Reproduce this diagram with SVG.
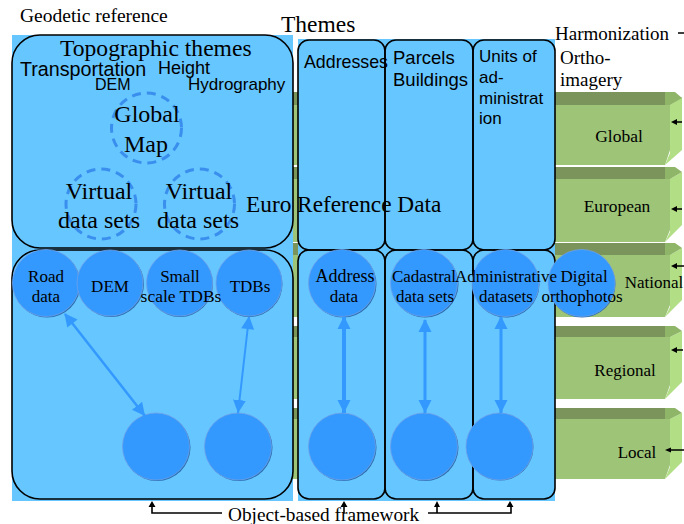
<svg xmlns="http://www.w3.org/2000/svg" width="684" height="524" viewBox="0 0 684 524">
<style>
text{fill:#000;font-family:"Liberation Serif","Times New Roman",serif}
.s{font-family:"Liberation Sans",Arial,sans-serif}
.m{text-anchor:middle}
.box{fill:none;stroke:#000;stroke-width:1.6}
.c{fill:#3399ff;stroke:#6f9fe8;stroke-width:.8}
.sh{fill:#2a6fb0}
.d{fill:none;stroke:#3a8fee;stroke-width:3;stroke-dasharray:9 6}
.band{fill:#7b945c}.front{fill:#9dc477}.side{fill:#b2de86}.cor{fill:#8fb568}
.a{stroke:#3399ff;fill:none;marker-start:url(#b1);marker-end:url(#b2)}
.k{stroke:#000;stroke-width:1.6;fill:none}
.ka{fill:#000}
.l{font-size:17px}
</style>
<defs>
<marker id="b1" markerUnits="userSpaceOnUse" markerWidth="14" markerHeight="14" refX="1" refY="7" orient="auto"><path d="M0 7L13 0.5V13.5Z" fill="#3399ff"/></marker>
<marker id="b2" markerUnits="userSpaceOnUse" markerWidth="14" markerHeight="14" refX="13" refY="7" orient="auto"><path d="M13 7L0 0.5V13.5Z" fill="#3399ff"/></marker>
</defs>
<rect width="684" height="524" fill="#fff"/>
<g id="slabs">
<g id="slab-global"><path class="band" d="M293 92H675L670 105H293Z"/><path class="front" d="M293 105H670V150L665 165H293Z"/><path class="side" d="M670 105L682 97V150L665 165L670 153Z"/><path class="cor" d="M665 92H675L682 98L670 105H665Z"/></g>
<g id="slab-european"><path class="band" d="M293 167H675L670 179H293Z"/><path class="front" d="M293 179H670V230L665 242H293Z"/><path class="side" d="M670 179L682 172V225L665 242L670 232Z"/><path class="cor" d="M665 167H675L682 172L670 179H665Z"/></g>
<g id="slab-national"><path class="band" d="M293 243H675L670 255H293Z"/><path class="front" d="M293 255H670V305L665 317H293Z"/><path class="side" d="M670 255L682 248V300L665 317L670 307Z"/><path class="cor" d="M665 243H675L682 248L670 255H665Z"/></g>
<g id="slab-regional"><path class="band" d="M293 326H675L670 337H293Z"/><path class="front" d="M293 337H670V385L665 399H293Z"/><path class="side" d="M670 337L682 331V382L665 399L670 387Z"/><path class="cor" d="M665 326H675L682 331L670 337H665Z"/></g>
<g id="slab-local"><path class="band" d="M293 408H675L670 419H293Z"/><path class="front" d="M293 419H670V465L665 479H293Z"/><path class="side" d="M670 419L682 413V462L665 479L670 467Z"/><path class="cor" d="M665 408H675L682 413L670 419H665Z"/></g>
</g>
<rect x="12" y="35" width="281" height="466" fill="#66c6ff"/>
<rect x="298" y="39" width="257" height="462" fill="#66c6ff"/>
<g id="frames">
<rect id="topographic-themes" class="box" x="12" y="35" width="281" height="213" rx="28"/>
<rect id="road-frame" class="box" x="12" y="250" width="281" height="249" rx="28"/>
<rect id="addresses" class="box" x="298" y="40" width="87" height="210" rx="11"/>
<rect id="parcels" class="box" x="385" y="40" width="88" height="210" rx="11"/>
<rect id="units" class="box" x="473" y="40" width="82" height="210" rx="11"/>
<rect id="address-frame" class="box" x="298" y="250" width="87" height="249" rx="11"/>
<rect id="cadastral-frame" class="box" x="385" y="250" width="88" height="249" rx="11"/>
<rect id="admin-frame" class="box" x="473" y="250" width="82" height="249" rx="11"/>
</g>
<g id="n-global"><circle class="d" cx="146.500" cy="128" r="35"/></g>
<g id="n-virtual1"><circle class="d" cx="101" cy="204" r="35"/></g>
<g id="n-virtual2"><circle class="d" cx="199.500" cy="204" r="35"/></g>
<g id="n-road"><circle class="sh" cx="47" cy="284" r="33.500"/><circle class="c" cx="46" cy="283" r="33.500"/></g>
<g id="n-dem"><circle class="sh" cx="111" cy="284" r="33"/><circle class="c" cx="110" cy="283" r="33"/></g>
<g id="n-small"><circle class="sh" cx="180" cy="284" r="33"/><circle class="c" cx="179.500" cy="283" r="33"/></g>
<g id="n-tdbs"><circle class="sh" cx="249.500" cy="284" r="33"/><circle class="c" cx="249" cy="283" r="33"/></g>
<g id="n-b1"><circle class="sh" cx="157" cy="447.500" r="33.500"/><circle class="c" cx="156" cy="446.500" r="33.500"/></g>
<g id="n-b2"><circle class="sh" cx="239" cy="447.500" r="33.500"/><circle class="c" cx="238" cy="446.500" r="33.500"/></g>
<g id="n-address"><circle class="sh" cx="343" cy="284" r="33.500"/><circle class="c" cx="342" cy="283" r="33.500"/></g>
<g id="n-cadastral"><circle class="sh" cx="425" cy="284" r="33.500"/><circle class="c" cx="424" cy="283" r="33.500"/></g>
<g id="n-admin"><circle class="sh" cx="506" cy="284" r="33.500"/><circle class="c" cx="505.500" cy="283" r="33.500"/></g>
<g id="n-digital"><circle class="sh" cx="582" cy="284" r="33.500"/><circle class="c" cx="581.500" cy="283" r="33.500"/></g>
<g id="n-b3"><circle class="sh" cx="343" cy="447.500" r="33.500"/><circle class="c" cx="342" cy="446.500" r="33.500"/></g>
<g id="n-b4"><circle class="sh" cx="425" cy="447.500" r="33.500"/><circle class="c" cx="424" cy="446.500" r="33.500"/></g>
<g id="n-b5"><circle class="sh" cx="500" cy="447" r="33.500"/><circle class="c" cx="499.500" cy="446.500" r="33.500"/></g>
<g id="connectors">
<path class="a" stroke-width="2.500" d="M65 314L145 416"/>
<path class="a" stroke-width="2" d="M249 317L238 413"/>
<path class="a" stroke-width="4" d="M344 317V413"/>
<path class="a" stroke-width="3" d="M425 320V413"/>
<path class="a" stroke-width="3" d="M501 317V413"/>
<path class="k" d="M222 513H152V504M428 513H511V504M437 513V504M344 513V504"/>
<path class="ka" d="M152 501L148.500 507H155.500ZM344 501L340.500 507H347.500ZM437 501L434 507H440ZM510 501L506.500 507H513.500Z"/>
<path class="k" d="M678 33H684M682 122H674M682 209H674M684 266H674M683 350H674M684 450H667"/>
<path class="ka" d="M671 122L677 119V125ZM671 209L677 206V212ZM671 266L677 263V269ZM671 350L677 347V353ZM665 450L671 447.500V452.500Z"/>
</g>
<g id="labels">
<text x="20" y="22" font-size="19.500">Geodetic reference</text>
<text x="281" y="32" font-size="23.500">Themes</text>
<text x="555" y="40" font-size="19">Harmonization</text>
<text x="560" y="64" font-size="19">Ortho-</text>
<text x="560" y="86" font-size="19">imagery</text>
<text x="60" y="56" font-size="23.600">Topographic themes</text>
<text class="s" x="20" y="76" font-size="19.700">Transportation</text>
<text class="s" x="158" y="74" font-size="18">Height</text>
<text class="s" x="95" y="90" font-size="16">DEM</text>
<text class="s" x="188" y="90" font-size="17">Hydrography</text>
<text class="m" x="147" y="122" font-size="24">Global</text>
<text class="m" x="146" y="152" font-size="24">Map</text>
<text class="m" x="99" y="199" font-size="24">Virtual</text>
<text class="m" x="99" y="228" font-size="24">data sets</text>
<text class="m" x="199" y="199" font-size="24">Virtual</text>
<text class="m" x="198" y="228" font-size="24">data sets</text>
<text x="246" y="212" font-size="23.300">Euro Reference Data</text>
<text class="s" x="304" y="68" font-size="17.800">Addresses</text>
<text class="s" x="393" y="64" font-size="18.500">Parcels</text>
<text class="s" x="393" y="86" font-size="18.500">Buildings</text>
<text class="s" x="479" y="62" font-size="17">Units of</text>
<text class="s" x="479" y="83" font-size="17">ad-</text>
<text class="s" x="479" y="104" font-size="17">ministrat</text>
<text class="s" x="479" y="124" font-size="17">ion</text>
<text class="m l" x="46" y="282">Road</text>
<text class="m l" x="46" y="302">data</text>
<text class="m l" x="110" y="292">DEM</text>
<text class="m l" x="180" y="282">Small</text>
<text class="m" x="181" y="302" font-size="17.500">scale TDBs</text>
<text class="m l" x="250" y="292">TDBs</text>
<text class="m" x="345" y="282" font-size="18">Address</text>
<text class="m l" x="344" y="302">data</text>
<text class="m l" x="424" y="282">Cadastral</text>
<text class="m l" x="425" y="302">data sets</text>
<text class="m l" x="506" y="282">Administrative</text>
<text class="m l" x="506" y="302">datasets</text>
<text class="m l" x="584" y="282">Digital</text>
<text class="m l" x="582" y="302">orthophotos</text>
<text class="m" x="619" y="142" font-size="17.500">Global</text>
<text class="m" x="617" y="212" font-size="17.400">European</text>
<text class="m l" x="654" y="288">National</text>
<text class="m l" x="625" y="376">Regional</text>
<text class="m l" x="637" y="458">Local</text>
<text x="228" y="521" font-size="19.300">Object-based framework</text>
</g>
</svg>
